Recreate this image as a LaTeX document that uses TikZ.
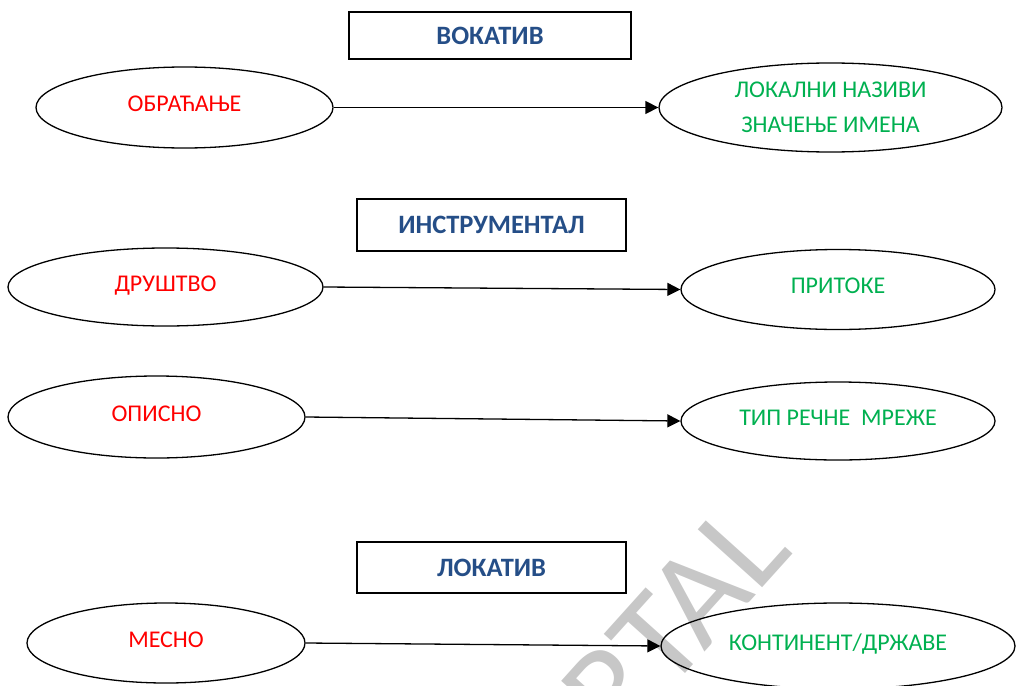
\documentclass[tikz,border=0pt]{standalone}
\usepackage{fontspec}
\setmainfont{Carlito}
\usetikzlibrary{arrows.meta,shapes.geometric}
\definecolor{hdr}{RGB}{37,78,135}
\definecolor{myred}{RGB}{255,0,0}
\definecolor{mygreen}{RGB}{0,176,80}
\begin{document}
\begin{tikzpicture}[x=1pt,y=-1pt,
  casebox/.style={draw,line width=1.3pt,inner sep=0pt,text=hdr,
    font=\bfseries\fontsize{26.5}{30}\selectfont},
  oval/.style={draw,ellipse,line width=1.3pt,inner sep=0pt,
    font=\fontsize{24}{35}\selectfont},
  oneline/.style={text height=16pt,text depth=8pt},
  srcoval/.style={oval,oneline,text=myred},
  dstoval/.style={oval,text=mygreen},
  link/.style={line width=1.3pt,-{Triangle[length=13pt,width=13pt]}},
  wmark/.style={text=black,text opacity=0.22,inner sep=0pt,
    font=\fontsize{135}{135}\selectfont}
]
\useasboundingbox (0,0) rectangle (1016,685);
\clip (0,0) rectangle (1016,685);

% headers
\node[casebox,minimum width=282pt,minimum height=47pt] (h1) at (490,35.5) {ВОКАТИВ};
\node[casebox,minimum width=269pt,minimum height=52pt] (h2) at (491.5,225) {ИНСТРУМЕНТАЛ};
\node[casebox,minimum width=269pt,minimum height=51pt] (h3) at (491.5,567.5) {ЛОКАТИВ};

% row 1
\node[srcoval,minimum width=297pt,minimum height=81pt] (o1) at (184.5,107.5) {ОБРАЋАЊЕ};
\node[dstoval,align=center,minimum width=343pt,minimum height=89pt] (p1) at (830.5,107.5) {ЛОКАЛНИ НАЗИВИ\\ЗНАЧЕЊЕ ИМЕНА};

% row 2
\node[srcoval,minimum width=315pt,minimum height=78pt] (o2) at (165.5,287) {ДРУШТВО};
\node[dstoval,oneline,minimum width=314pt,minimum height=80pt] (p2) at (838,289.5) {ПРИТОКЕ};

% row 3
\node[srcoval,minimum width=297pt,minimum height=82pt] (o3) at (156.5,417) {ОПИСНО};
\node[dstoval,oneline,minimum width=314pt,minimum height=78pt] (p3) at (838,421) {ТИП РЕЧНЕ\ \ МРЕЖЕ};

% row 4
\node[srcoval,minimum width=278pt,minimum height=80pt] (o4) at (166,643) {МЕСНО};
\node[dstoval,oneline,minimum width=354pt,minimum height=86pt] (p4) at (838,646) {КОНТИНЕНТ/ДРЖАВЕ};

% connectors
\draw[link] (o1.east) -- (p1.west);
\draw[link] (o2.east) -- (p2.west);
\draw[link] (o3.east) -- (p3.west);
\draw[link] (o4.east) -- (p4.west);

% watermark
\node[wmark,anchor=base east,rotate=48] (wm) at (795,552) {RTAL};
\end{tikzpicture}
\end{document}
